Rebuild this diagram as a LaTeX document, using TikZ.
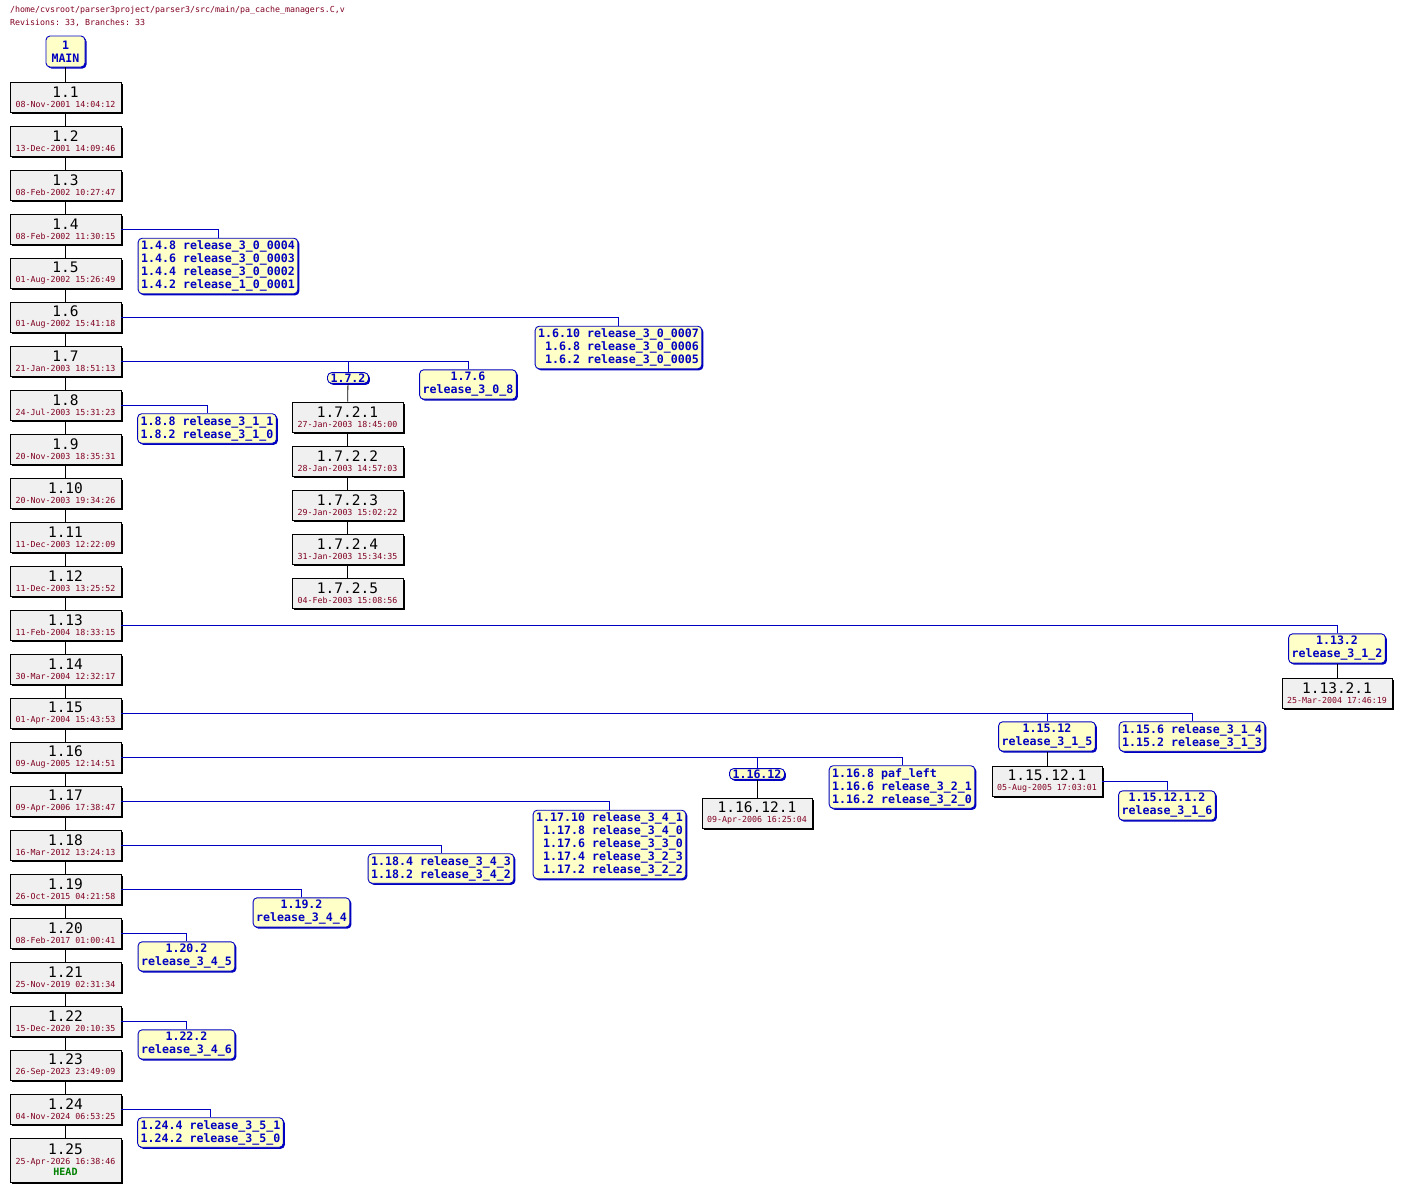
\documentclass[tikz,border=0pt]{standalone}
\usepackage{fontspec}
\setmonofont{DejaVu Sans Mono}
\usetikzlibrary{shadows}
\definecolor{revfill}{HTML}{F0F0F0}
\definecolor{tagfill}{HTML}{FFFFC8}
\definecolor{tagblue}{HTML}{0000C0}
\definecolor{datered}{HTML}{800020}
\definecolor{headgreen}{HTML}{008000}
\tikzset{
  revbox/.style={draw=black, fill=revfill, line width=0.9pt, minimum width=111pt, minimum height=30pt, inner sep=0pt, align=center, font=\ttfamily,
    general shadow={fill=black, shadow xshift=1.5pt, shadow yshift=-1.5pt}},
  tagbox/.style={draw=tagblue, fill=tagfill, line width=0.9pt, rounded corners=4pt, inner xsep=3pt, inner ysep=2.5pt, align=center, text=tagblue, font=\ttfamily\bfseries\fontsize{11.6}{13}\selectfont,
    general shadow={fill=tagblue, shadow xshift=1.5pt, shadow yshift=-1.5pt}},
  trunk/.style={draw=black, line width=0.8pt},
  br/.style={draw=tagblue, line width=0.8pt},
}
\newcommand{\rl}[2]{{\fontsize{14.5}{15}\selectfont #1}\\[-2pt]{\fontsize{8.3}{9}\selectfont\color{datered}#2}}
\newcommand{\ph}{\hphantom{1}}
\begin{document}
\begin{tikzpicture}[x=1pt,y=-1pt]
\useasboundingbox (0,0) rectangle (1401,1191);
\node[anchor=north west, inner sep=0pt, align=left, text=datered, font=\ttfamily\fontsize{8.3}{13}\selectfont] (hdr) at (10,6) {/home/cvsroot/parser3project/parser3/src/main/pa\_cache\_managers.C,v\\Revisions: 33, Branches: 33};
\node[tagbox, minimum width=39pt, minimum height=31pt] (main) at (65.5,51.5) {1\\MAIN};
\foreach \n/\d in {1/08-Nov-2001 14:04:12, 2/13-Dec-2001 14:09:46, 3/08-Feb-2002 10:27:47, 4/08-Feb-2002 11:30:15, 5/01-Aug-2002 15:26:49, 6/01-Aug-2002 15:41:18, 7/21-Jan-2003 18:51:13, 8/24-Jul-2003 15:31:23, 9/20-Nov-2003 18:35:31, 10/20-Nov-2003 19:34:26, 11/11-Dec-2003 12:22:09, 12/11-Dec-2003 13:25:52, 13/11-Feb-2004 18:33:15, 14/30-Mar-2004 12:32:17, 15/01-Apr-2004 15:43:53, 16/09-Aug-2005 12:14:51, 17/09-Apr-2006 17:38:47, 18/16-Mar-2012 13:24:13, 19/26-Oct-2015 04:21:58, 20/08-Feb-2017 01:00:41, 21/25-Nov-2019 02:31:34, 22/15-Dec-2020 20:10:35, 23/26-Sep-2023 23:49:09, 24/04-Nov-2024 06:53:25}
  \node[revbox] (r\n) at (65.5,{97+44*(\n-1)}) {\rl{1.\n}{\d}};
\node[revbox, minimum height=44pt] (r25) at (65.5,1160) {\rl{1.25}{25-Apr-2026 16:38:46}\\[-1pt]{\fontsize{10}{11}\selectfont\bfseries\color{headgreen}HEAD}};
\draw[trunk] (main) -- (r1);
\foreach \a [evaluate=\a as \b using int(\a+1)] in {1,...,24} \draw[trunk] (r\a) -- (r\b);
% 1.7.2 revisions
\foreach \n/\d in {1/27-Jan-2003 18:45:00, 2/28-Jan-2003 14:57:03, 3/29-Jan-2003 15:02:22, 4/31-Jan-2003 15:34:35, 5/04-Feb-2003 15:08:56}
  \node[revbox] (s\n) at (347.5,{417+44*(\n-1)}) {\rl{1.7.2.\n}{\d}};
\foreach \a/\b in {1/2,2/3,3/4,4/5} \draw[trunk] (s\a) -- (s\b);
% tags
\node[tagbox, align=left] (t4) at (218,266) {1.4.8 release\_3\_0\_0004\\1.4.6 release\_3\_0\_0003\\1.4.4 release\_3\_0\_0002\\1.4.2 release\_1\_0\_0001};
\node[tagbox, align=left] (t6) at (618.5,347.5) {1.6.10 release\_3\_0\_0007\\\ph1.6.8 release\_3\_0\_0006\\\ph1.6.2 release\_3\_0\_0005};
\node[tagbox, inner ysep=1pt] (t7a) at (348,378) {1.7.2};
\node[tagbox] (t7b) at (468,384.5) {1.7.6\\release\_3\_0\_8};
\node[tagbox, align=left] (t8) at (207,428.5) {1.8.8 release\_3\_1\_1\\1.8.2 release\_3\_1\_0};
\node[tagbox] (t13) at (1337,648.5) {1.13.2\\release\_3\_1\_2};
\node[revbox, minimum width=110pt] (r13b) at (1337,693) {\rl{1.13.2.1}{25-Mar-2004 17:46:19}};
\node[tagbox] (t15a) at (1047,736.5) {1.15.12\\release\_3\_1\_5};
\node[tagbox, align=left] (t15b) at (1192,736.5) {1.15.6 release\_3\_1\_4\\1.15.2 release\_3\_1\_3};
\node[revbox, minimum width=110pt] (r15b) at (1047,781) {\rl{1.15.12.1}{05-Aug-2005 17:03:01}};
\node[tagbox] (t15c) at (1167,805.5) {1.15.12.1.2\\release\_3\_1\_6};
\node[tagbox, inner ysep=1pt] (t16a) at (757,774) {1.16.12};
\node[tagbox, align=left] (t16b) at (902,787) {1.16.8 paf\_left\\1.16.6 release\_3\_2\_1\\1.16.2 release\_3\_2\_0};
\node[revbox, minimum width=110pt] (r16b) at (757,813) {\rl{1.16.12.1}{09-Apr-2006 16:25:04}};
\node[tagbox, align=left] (t17) at (609.5,844.5) {1.17.10 release\_3\_4\_1\\\ph1.17.8 release\_3\_4\_0\\\ph1.17.6 release\_3\_3\_0\\\ph1.17.4 release\_3\_2\_3\\\ph1.17.2 release\_3\_2\_2};
\node[tagbox, align=left] (t18) at (441,868.5) {1.18.4 release\_3\_4\_3\\1.18.2 release\_3\_4\_2};
\node[tagbox] (t19) at (301.5,912.5) {1.19.2\\release\_3\_4\_4};
\node[tagbox] (t20) at (186.5,956.5) {1.20.2\\release\_3\_4\_5};
\node[tagbox] (t22) at (186.5,1044.5) {1.22.2\\release\_3\_4\_6};
\node[tagbox, align=left] (t24) at (210.5,1132.5) {1.24.4 release\_3\_5\_1\\1.24.2 release\_3\_5\_0};
% branch connectors
\foreach \r/\t in {r4/t4, r6/t6, r7/t7b, r7/t7a, r8/t8, r13/t13, r15/t15b, r15/t15a, r16/t16b, r16/t16a, r17/t17, r18/t18, r19/t19, r20/t20, r22/t22, r24/t24, r15b/t15c}
  \draw[br] (\r.east) -| (\t.north);
\draw[trunk] (t7a) -- (s1);
\draw[trunk] (t13) -- (r13b);
\draw[trunk] (t15a) -- (r15b);
\draw[trunk] (t16a) -- (r16b);
\end{tikzpicture}
\end{document}
